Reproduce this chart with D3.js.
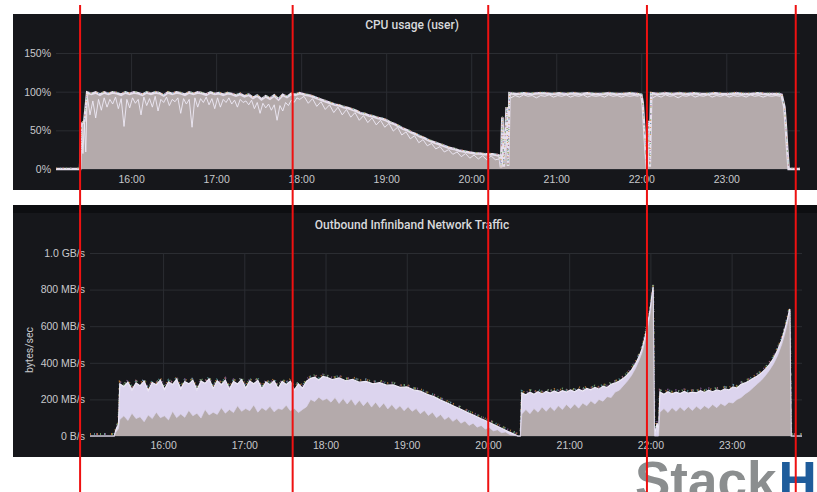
<!DOCTYPE html>
<html>
<head>
<meta charset="utf-8">
<script src="https://cdn.jsdelivr.net/npm/d3@7"></script>
<style>
body { margin: 0; background: #fff; }
svg { display: block; font-family: Roboto, "Noto Sans", sans-serif; }
</style>
</head>
<body>
<svg id="chart" width="817" height="492"></svg>
<script>
// ---- data ----
const hourTicks = ["16:00","17:00","18:00","19:00","20:00","21:00","22:00","23:00"];
const cpuTicks = [0, 50, 100, 150];
const cpuTickLabels = ["0%", "50%", "100%", "150%"];
const netTicks = [0, 200, 400, 600, 800, 1000];
const netTickLabels = ["0 B/s", "200 MB/s", "400 MB/s", "600 MB/s", "800 MB/s", "1.0 GB/s"];
const markTimes = ["15:24", "17:54", "20:12", "22:04", "23:49"];

// top of the cpu band (%)
const cpuHigh = [["15:07",0],["15:24",0],["15:25",58],["15:27",62],["15:29",99],
  ["15:32",97],["15:35",99],["15:38",96],["15:41",99],["15:44",97],["15:47",99],["15:50",98],["15:53",96],["15:56",99],["15:59",97],
  ["16:02",99],["16:05",98],["16:08",96],["16:11",99],["16:14",97],["16:17",99],["16:20",98],["16:23",95],["16:26",99],["16:29",97],
  ["16:32",99],["16:35",98],["16:38",96],["16:41",99],["16:44",97],["16:47",99],["16:50",98],["16:53",96],["16:56",99],["16:59",97],
  ["17:02",98],["17:05",96],["17:08",98],["17:11",97],["17:14",95],["17:17",97],["17:20",94],["17:23",96],["17:26",92],["17:29",95],
  ["17:32",90],["17:35",94],["17:38",91],["17:41",95],["17:44",90],["17:47",96],["17:50",93],["17:53",97],["17:56",96],["17:59",98],["18:01",97],
  ["18:03",96],["18:06",95],["18:09",93],["18:12",91],["18:15",89],["18:18",87],["18:21",85],["18:24",83],["18:27",82],["18:30",80],
  ["18:33",79],["18:36",77],["18:39",75],["18:42",72],["18:45",71],["18:48",69],["18:51",68],["18:54",66],["18:57",65],["19:00",63],
  ["19:03",60],["19:06",58],["19:09",55],["19:12",52],["19:15",50],["19:18",47],["19:21",45],["19:24",42],["19:27",40],["19:30",37],
  ["19:33",35],["19:36",33],["19:39",31],["19:42",29],["19:45",27],["19:48",26],["19:51",24],["19:54",23],["19:57",22],["20:00",21],
  ["20:03",20],["20:06",20],["20:09",19],["20:12",19],["20:15",19],["20:18",18],["20:20",17],["20:21",2],["20:22",67],["20:23",3],
  ["20:25",80],["20:26",4],["20:27",98],
  ["20:32",97],["20:37",98],["20:42",97],["20:47",98],["20:52",98],["20:57",97],["21:02",98],["21:07",97],["21:12",98],["21:17",97],
  ["21:22",98],["21:27",97],["21:32",97],["21:37",98],["21:42",97],["21:47",97],["21:52",98],["21:57",97],["22:00",96],["22:01",85],
  ["22:02",55],["22:03",25],["22:04",0],["22:05",62],["22:06",3],["22:07",98],
  ["22:12",97],["22:17",98],["22:22",97],["22:27",98],["22:32",97],["22:37",98],["22:42",97],["22:47",97],["22:52",98],["22:57",97],
  ["23:02",97],["23:07",98],["23:12",97],["23:17",97],["23:22",98],["23:27",97],["23:32",97],["23:37",97],["23:39",96],["23:41",80],
  ["23:42",55],["23:43",25],["23:44",0],["23:52",0]];

// low spikes of the individual cpu lines (%)
const cpuDipsA = [["15:25",55],["15:26",20],["15:27",60],["15:28",22],["15:29",95],
  ["15:31",70],["15:33",88],["15:35",66],["15:37",90],["15:39",76],["15:41",92],["15:43",80],["15:45",90],["15:47",84],["15:49",93],
  ["15:51",78],["15:53",91],["15:55",55],["15:57",90],["15:59",79],["16:01",92],["16:03",85],["16:05",90],["16:07",70],["16:09",93],
  ["16:11",82],["16:13",91],["16:15",80],["16:17",94],["16:19",75],["16:21",90],["16:23",86],["16:25",93],["16:27",82],["16:29",90],
  ["16:31",87],["16:33",92],["16:35",72],["16:37",91],["16:39",84],["16:41",90],["16:43",54],["16:45",92],["16:47",80],["16:49",91],
  ["16:51",86],["16:53",93],["16:55",83],["16:57",91],["16:59",78],["17:01",92],["17:03",80],["17:05",90],["17:07",86],["17:09",92],
  ["17:11",84],["17:13",89],["17:15",80],["17:17",90],["17:19",86],["17:21",88],["17:23",83],["17:25",89],["17:27",78],["17:29",86],
  ["17:31",72],["17:33",85],["17:35",79],["17:37",84],["17:39",76],["17:41",83],["17:43",63],["17:45",82],["17:47",75],["17:49",86],
  ["17:51",82],["17:53",89],["17:55",86],["17:57",92],["17:59",90],
  ["18:02",94],["18:05",85],["18:08",91],["18:11",81],["18:14",87],["18:17",77],["18:20",83],["18:23",73],["18:26",80],["18:29",70],
  ["18:32",77],["18:35",67],["18:38",73],["18:41",63],["18:44",69],["18:47",60],["18:50",66],["18:53",57],["18:56",63],["18:59",54],
  ["19:02",59],["19:05",49],["19:08",54],["19:11",44],["19:14",48],["19:17",39],["19:20",43],["19:23",34],["19:26",38],["19:29",30],
  ["19:32",33],["19:35",26],["19:38",29],["19:41",22],["19:44",25],["19:47",19],["19:50",22],["19:53",16],["19:56",20],["19:59",14],
  ["20:02",18],["20:05",13],["20:08",17],["20:11",12],["20:14",17],["20:17",12],["20:20",13]];
const cpuDipsB = [["20:28",92],["20:31",95],["20:34",93],["20:37",96],["20:40",94],["20:43",95],["20:46",92],["20:49",95],["20:52",94],
  ["20:55",96],["20:58",93],["21:01",95],["21:04",94],["21:07",96],["21:10",93],["21:13",95],["21:16",94],["21:19",96],["21:22",93],
  ["21:25",95],["21:28",94],["21:31",95],["21:34",93],["21:37",96],["21:40",94],["21:43",95],["21:46",93],["21:49",95],["21:52",94],
  ["21:55",95],["21:58",94]];
const cpuDipsC = [["22:08",92],["22:11",95],["22:14",93],["22:17",96],["22:20",94],["22:23",95],["22:26",92],["22:29",95],["22:32",94],
  ["22:35",96],["22:38",93],["22:41",95],["22:44",94],["22:47",96],["22:50",93],["22:53",95],["22:56",94],["22:59",96],["23:02",93],
  ["23:05",95],["23:08",94],["23:11",95],["23:14",93],["23:17",96],["23:20",94],["23:23",95],["23:26",93],["23:29",95],["23:32",94],
  ["23:35",95],["23:38",94]];

// top of the network band (MB/s)
const netHigh = [["15:06",0],["15:24",0],["15:25",30],["15:26",50],["15:27",60],["15:28",285],
  ["15:31",270],["15:34",295],["15:37",252],["15:40",290],["15:43",275],["15:46",300],["15:49",248],["15:52",292],["15:55",280],
  ["15:58",305],["16:01",255],["16:04",296],["16:07",282],["16:10",310],["16:13",258],["16:16",298],["16:19",285],["16:22",305],
  ["16:25",252],["16:28",300],["16:31",288],["16:34",312],["16:37",260],["16:40",302],["16:43",280],["16:46",306],["16:49",256],
  ["16:52",298],["16:55",284],["16:58",308],["17:01",262],["17:04",300],["17:07",286],["17:10",304],["17:13",258],["17:16",296],
  ["17:19",280],["17:22",302],["17:25",260],["17:28",298],["17:31",282],["17:34",300],["17:37",252],["17:40",285],["17:43",262],
  ["17:46",300],["17:49",315],["17:52",322],["17:55",306],["17:58",325],["18:01",320],
  ["18:05",308],["18:10",318],["18:15",302],["18:20",310],["18:25",294],["18:30",298],["18:35",285],["18:40",292],["18:45",278],
  ["18:50",280],["18:55",266],["19:00",268],["19:05",252],["19:10",245],["19:15",228],["19:20",215],["19:25",196],["19:30",180],
  ["19:35",163],["19:40",146],["19:45",128],["19:50",112],["19:55",94],["20:00",78],["20:05",60],["20:10",42],["20:15",24],
  ["20:20",8],["20:22",0],["20:24",0],["20:25",235],
  ["20:28",225],["20:31",240],["20:34",228],["20:37",242],["20:40",230],["20:43",244],["20:46",235],["20:49",246],["20:52",236],
  ["20:55",248],["20:58",240],["21:01",252],["21:04",242],["21:07",256],["21:10",246],["21:13",260],["21:16",252],["21:19",265],
  ["21:22",256],["21:25",272],["21:28",265],["21:31",282],["21:34",290],["21:37",300],["21:40",315],["21:43",335],["21:46",360],
  ["21:49",395],["21:52",440],["21:54",480],["21:56",540],["21:58",610],["22:00",700],["22:01",760],["22:02",815],["22:03",0],
  ["22:04",40],["22:05",70],["22:06",10],["22:07",240],
  ["22:10",228],["22:13",242],["22:16",230],["22:19",240],["22:22",232],["22:25",244],["22:28",234],["22:31",240],["22:34",236],
  ["22:37",248],["22:40",238],["22:43",250],["22:46",242],["22:49",252],["22:52",246],["22:55",258],["22:58",252],["23:01",268],
  ["23:04",262],["23:07",282],["23:10",290],["23:13",302],["23:16",315],["23:19",328],["23:22",345],["23:25",365],["23:28",392],
  ["23:31",425],["23:34",470],["23:37",525],["23:39",575],["23:41",630],["23:42",665],["23:43",694],["23:44",0],["23:52",0]];

// top of the dense grey part of the network band (MB/s)
const netGray = [["15:06",0],["15:24",0],["15:25",20],["15:27",40],["15:28",90],
  ["15:31",110],["15:34",85],["15:37",125],["15:40",95],["15:43",105],["15:46",78],["15:49",115],["15:52",95],["15:55",130],
  ["15:58",100],["16:01",110],["16:04",88],["16:07",135],["16:10",100],["16:13",120],["16:16",102],["16:19",140],["16:22",110],
  ["16:25",125],["16:28",98],["16:31",145],["16:34",115],["16:37",130],["16:40",118],["16:43",155],["16:46",125],["16:49",145],
  ["16:52",128],["16:55",165],["16:58",135],["17:01",150],["17:04",138],["17:07",170],["17:10",130],["17:13",155],["17:16",140],
  ["17:19",162],["17:22",132],["17:25",150],["17:28",145],["17:31",168],["17:34",138],["17:37",150],["17:40",128],["17:43",145],
  ["17:46",160],["17:49",200],["17:52",188],["17:55",212],["17:58",195],["18:01",205],
  ["18:04",185],["18:07",210],["18:10",178],["18:13",205],["18:16",175],["18:19",202],["18:22",168],["18:25",195],["18:28",165],
  ["18:31",190],["18:34",158],["18:37",185],["18:40",155],["18:43",180],["18:46",148],["18:49",172],["18:52",145],["18:55",165],
  ["18:58",138],["19:01",160],["19:04",135],["19:07",150],["19:10",122],["19:13",140],["19:16",112],["19:19",130],["19:22",100],
  ["19:25",118],["19:28",90],["19:31",105],["19:34",80],["19:37",95],["19:40",70],["19:43",82],["19:46",58],["19:49",70],
  ["19:52",48],["19:55",58],["19:58",38],["20:01",46],["20:04",28],["20:07",34],["20:10",18],["20:13",22],["20:16",8],["20:19",4],
  ["20:22",0],["20:24",0],["20:25",120],
  ["20:28",145],["20:31",122],["20:34",150],["20:37",130],["20:40",158],["20:43",135],["20:46",160],["20:49",138],["20:52",165],
  ["20:55",145],["20:58",172],["21:01",150],["21:04",175],["21:07",152],["21:10",180],["21:13",165],["21:16",192],["21:19",175],
  ["21:22",200],["21:25",190],["21:28",215],["21:31",210],["21:34",240],["21:37",250],["21:40",275],["21:43",300],["21:46",330],
  ["21:49",370],["21:52",420],["21:54",460],["21:56",520],["21:58",590],["22:00",680],["22:01",740],["22:02",790],["22:03",0],
  ["22:06",0],["22:07",130],
  ["22:10",150],["22:13",128],["22:16",155],["22:19",135],["22:22",158],["22:25",138],["22:28",160],["22:31",140],["22:34",162],
  ["22:37",145],["22:40",165],["22:43",150],["22:46",172],["22:49",155],["22:52",178],["22:55",165],["22:58",185],["23:01",180],
  ["23:04",200],["23:07",210],["23:10",230],["23:13",245],["23:16",265],["23:19",285],["23:22",305],["23:25",330],["23:28",360],
  ["23:31",395],["23:34",440],["23:37",500],["23:39",550],["23:41",610],["23:42",645],["23:43",675],["23:44",0],["23:52",0]];

// ---- drawing ----
const parse = d3.timeParse("%H:%M");
const svg = d3.select("#chart");

const bg = "#16171b", gridCol = "#2b2d32", txtCol = "#c8c9cc";
const grayFill = "#b4aaab", lavFill = "#dcd4ee", whiteLine = "#eeeaf6";
const speckles = [["#d08a3c", "1,6", 0], ["#8e5f9e", "1,8", 3], ["#5aa6a6", "1,9", 6], ["#7eb26d", "1,11", 2]];

function pts(arr) { return arr.map(d => ({t: parse(d[0]), v: d[1]})); }

function panel(o) {
  const g = svg.append("g");
  g.append("rect").attr("x", 13).attr("y", o.panelTop).attr("width", 804)
    .attr("height", o.panelBottom - o.panelTop).attr("fill", bg);
  if (o.band) g.append("rect").attr("x", 13).attr("y", o.panelTop).attr("width", 804)
    .attr("height", o.band).attr("fill", "#0d0e11");

  g.append("text").attr("x", 412).attr("y", o.titleY).attr("text-anchor", "middle")
    .attr("fill", "#d8d9dc").style("font-size", "12px").style("font-weight", 500).text(o.title);

  const x = d3.scaleTime().domain([parse(o.start), parse(o.end)]).range([o.left, o.right]);
  const y = d3.scaleLinear().domain([0, o.max]).range([o.bottom, o.top]);

  const yAxis = g.append("g").attr("transform", `translate(${o.left},0)`)
    .call(d3.axisLeft(y).tickValues(o.yTicks).tickSize(-(o.right - o.left)).tickPadding(5)
      .tickFormat((d, i) => o.yLabels[i]));
  const xAxis = g.append("g").attr("transform", `translate(0,${o.bottom})`)
    .call(d3.axisBottom(x).tickValues(hourTicks.map(parse)).tickSize(-(o.bottom - o.top))
      .tickPadding(o.xPad).tickFormat(d3.timeFormat("%H:%M")));
  [yAxis, xAxis].forEach(a => {
    a.select(".domain").remove();
    a.selectAll("line").attr("stroke", gridCol);
    a.selectAll("text").attr("fill", txtCol).style("font-size", "10.5px");
  });

  return {g, x, y};
}

// CPU usage panel
const cpu = panel({title: "CPU usage (user)", panelTop: 14, panelBottom: 190, titleY: 29,
  left: 56, right: 800, top: 53, bottom: 169, max: 150, start: "15:07", end: "23:52",
  yTicks: cpuTicks, yLabels: cpuTickLabels, xPad: 7});

const cpuArea = d3.area().x(d => cpu.x(d.t)).y0(cpu.y(0)).y1(d => cpu.y(d.v));
const cpuLine = d3.line().x(d => cpu.x(d.t)).y(d => cpu.y(d.v));
cpu.g.append("path").attr("d", cpuArea(pts(cpuHigh))).attr("fill", grayFill);
[cpuDipsA, cpuDipsB, cpuDipsC].forEach(s => {
  cpu.g.append("path").attr("d", cpuLine(pts(s))).attr("fill", "none")
    .attr("stroke", whiteLine).attr("stroke-width", 1).attr("opacity", 0.9);
});
cpu.g.append("path").attr("d", cpuLine(pts(cpuHigh))).attr("fill", "none")
  .attr("stroke", "#e6dfec").attr("stroke-width", 2.6);
speckles.forEach(s => {
  cpu.g.append("path").attr("d", cpuLine(pts(cpuHigh))).attr("fill", "none")
    .attr("stroke", s[0]).attr("stroke-width", 1.2).attr("stroke-dasharray", s[1])
    .attr("stroke-dashoffset", s[2]).attr("opacity", 0.7).attr("transform", "translate(0,-1)");
});

// Network panel
const net = panel({title: "Outbound Infiniband Network Traffic", panelTop: 205, panelBottom: 457, band: 8, titleY: 229,
  left: 90, right: 802, top: 253, bottom: 436, max: 1000, start: "15:06", end: "23:52",
  yTicks: netTicks, yLabels: netTickLabels, xPad: 6});

net.g.append("text").attr("transform", "translate(33,350) rotate(-90)").attr("text-anchor", "middle")
  .attr("fill", txtCol).style("font-size", "10.5px").text("bytes/sec");

const netArea = d3.area().x(d => net.x(d.t)).y0(net.y(0)).y1(d => net.y(d.v));
const netLine = d3.line().x(d => net.x(d.t)).y(d => net.y(d.v));
speckles.forEach(s => {
  net.g.append("path").attr("d", netLine(pts(netHigh))).attr("fill", "none")
    .attr("stroke", s[0]).attr("stroke-width", 2).attr("stroke-dasharray", s[1])
    .attr("stroke-dashoffset", s[2]).attr("opacity", 0.8).attr("transform", "translate(0,-2)");
});
net.g.append("path").attr("d", netArea(pts(netHigh))).attr("fill", lavFill);
net.g.append("path").attr("d", netLine(pts(netHigh))).attr("fill", "none")
  .attr("stroke", whiteLine).attr("stroke-width", 1.2);
net.g.append("path").attr("d", netArea(pts(netGray))).attr("fill", grayFill);
net.g.append("path").attr("d", netLine(pts(netGray))).attr("fill", "none")
  .attr("stroke", lavFill).attr("stroke-width", 0.8).attr("opacity", 0.8);

// logo, partly cut by the bottom edge
const logo = svg.append("text").attr("x", 635).attr("y", 499)
  .style("font-family", "'Liberation Sans', Arial, sans-serif").style("font-size", "53px").style("font-weight", "bold");
logo.append("tspan").attr("fill", "#8b8e8f").text("Stack");
logo.append("tspan").attr("fill", "#1e5c9b").attr("dx", 2).text("H");

// red marker lines drawn over the screenshot
const topX = cpu.x;
svg.selectAll(".mark").data(markTimes).join("line").attr("class", "mark")
  .attr("x1", d => topX(parse(d))).attr("x2", d => topX(parse(d)))
  .attr("y1", 5).attr("y2", 492).attr("stroke", "#ee1111").attr("stroke-width", 2);
</script>
</body>
</html>
